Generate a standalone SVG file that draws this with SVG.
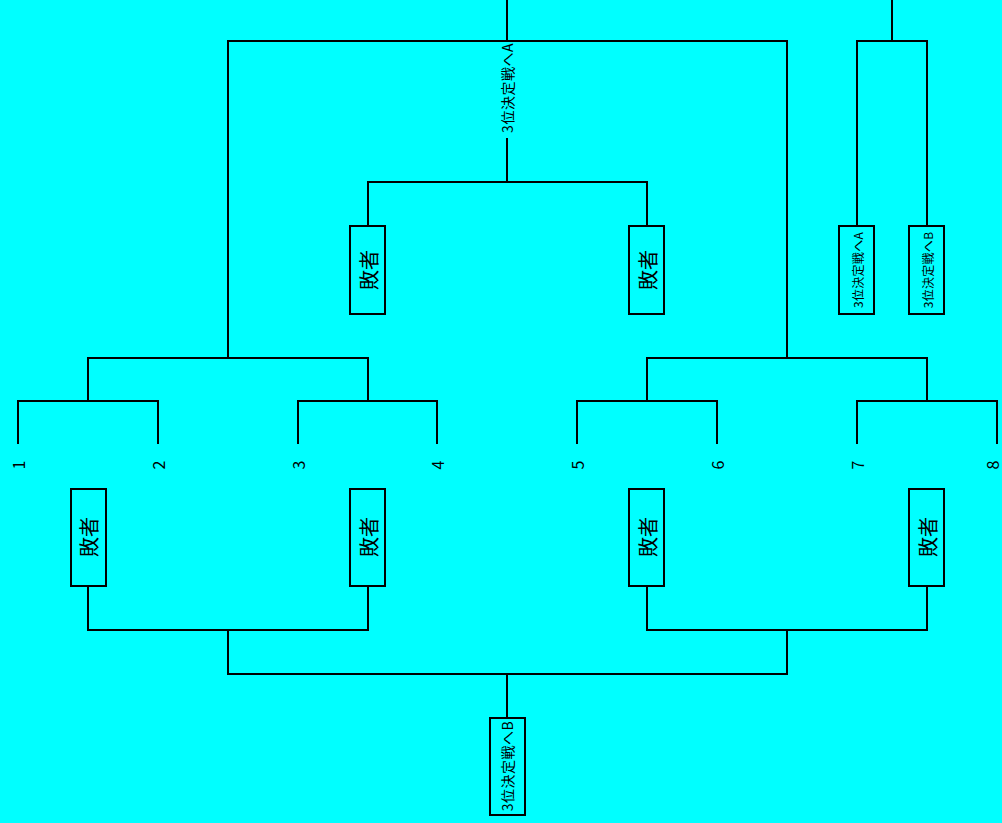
<svg xmlns="http://www.w3.org/2000/svg" width="1002" height="823" viewBox="0 0 1002 823">
<style>
.ln{fill:none;stroke:#000;stroke-width:2}
.bx{fill:none;stroke:#000;stroke-width:2}
.t{font-family:"Noto Sans CJK JP","DejaVu Sans",sans-serif;fill:#000;text-anchor:middle;dominant-baseline:central}
.big{font-size:20px}
.mid{font-size:14px;letter-spacing:0.5px}
.sm{font-size:12px;letter-spacing:0.3px}
.num{font-size:16px}
</style>
<rect width="1002" height="823" fill="#00ffff"/>
<g id="connectors" class="ln">
<path d="M507,0V41M228,358V41H787V358M507,138V182M368,226V182H647V226"/>
<path d="M892,0V41M857,226V41H927V226"/>
<path d="M88,401V358H368V401M647,401V358H927V401"/>
<path d="M18,444V401H158V444M298,444V401H437V444M577,444V401H717V444M857,444V401H997V444"/>
<path d="M88,586V630H368V586M647,586V630H927V586M228,630V674H787V630M507,674V718"/>
</g>
<g id="label-top"><text class="t mid" transform="translate(507,88) rotate(-90)">3位決定戦へA</text></g>
<g id="loser-top1"><rect class="bx" x="350" y="226" width="35" height="88"/><text class="t big" transform="translate(368,270) rotate(-90)">敗者</text></g>
<g id="loser-top2"><rect class="bx" x="629" y="226" width="35" height="88"/><text class="t big" transform="translate(647,270) rotate(-90)">敗者</text></g>
<g id="third-a"><rect class="bx" x="839" y="226" width="35" height="88"/><text class="t sm" transform="translate(857,270) rotate(-90)">3位決定戦へA</text></g>
<g id="third-b"><rect class="bx" x="909" y="226" width="35" height="88"/><text class="t sm" transform="translate(927,270) rotate(-90)">3位決定戦へB</text></g>
<g id="nums">
<text class="t num" transform="translate(18,465) rotate(-90)">1</text>
<text class="t num" transform="translate(158,465) rotate(-90)">2</text>
<text class="t num" transform="translate(298,465) rotate(-90)">3</text>
<text class="t num" transform="translate(437,465) rotate(-90)">4</text>
<text class="t num" transform="translate(577,465) rotate(-90)">5</text>
<text class="t num" transform="translate(717,465) rotate(-90)">6</text>
<text class="t num" transform="translate(857,465) rotate(-90)">7</text>
<text class="t num" transform="translate(992,465) rotate(-90)">8</text>
</g>
<g id="loser-1"><rect class="bx" x="71" y="489" width="35" height="97"/><text class="t big" transform="translate(88,537) rotate(-90)">敗者</text></g>
<g id="loser-2"><rect class="bx" x="350" y="489" width="35" height="97"/><text class="t big" transform="translate(368,537) rotate(-90)">敗者</text></g>
<g id="loser-3"><rect class="bx" x="629" y="489" width="35" height="97"/><text class="t big" transform="translate(647,537) rotate(-90)">敗者</text></g>
<g id="loser-4"><rect class="bx" x="909" y="489" width="35" height="97"/><text class="t big" transform="translate(927,537) rotate(-90)">敗者</text></g>
<g id="third-bottom"><rect class="bx" x="490" y="718" width="35" height="97"/><text class="t mid" transform="translate(507,766) rotate(-90)">3位決定戦へB</text></g>
</svg>
